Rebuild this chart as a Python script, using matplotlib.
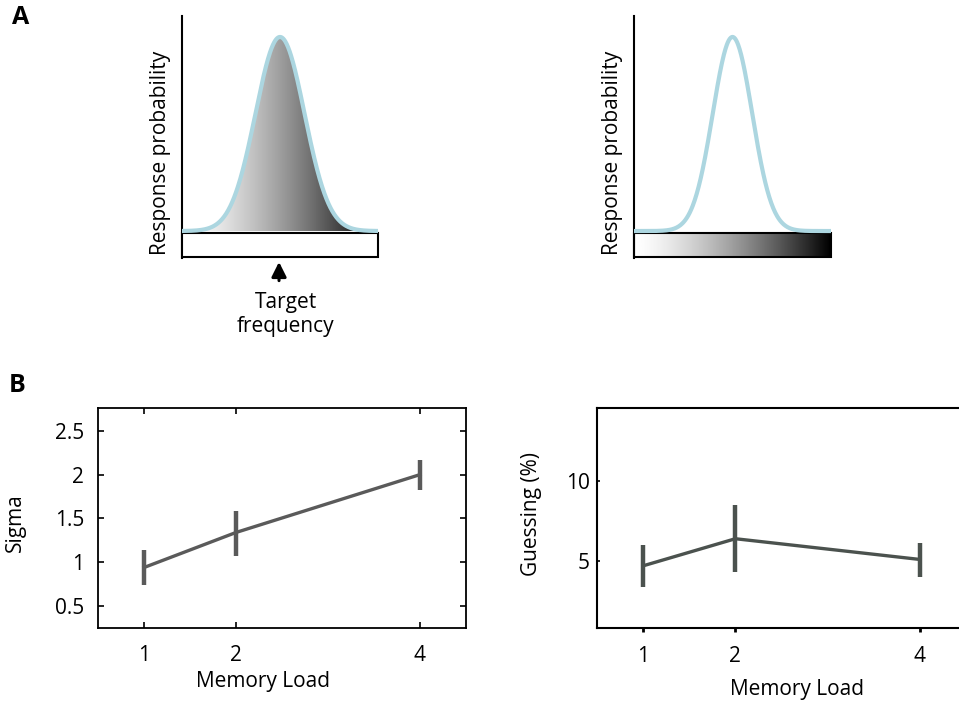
import numpy as np
import matplotlib
matplotlib.use("Agg")
import matplotlib.pyplot as plt
from matplotlib.patches import Rectangle

plt.rcParams['font.family'] = ['Open Sans', 'DejaVu Sans']

# panel B data
loads = [1, 2, 4]
sigma_mean = [0.94, 1.34, 2.0]
sigma_lo = [0.74, 1.07, 1.82]
sigma_hi = [1.14, 1.59, 2.17]
guess_mean = [4.7, 6.4, 5.1]
guess_lo = [3.4, 4.3, 4.0]
guess_hi = [6.0, 8.5, 6.15]

# panel A schematic curves (centre, width)
curve_centre = 0.5
curve_width_left = 0.125
curve_width_right = 0.1

W, H = 959, 705
fig = plt.figure(figsize=(W / 100, H / 100), dpi=100)

def box(x0, y0, x1, y1):
    return [x0 / W, 1 - y1 / H, (x1 - x0) / W, (y1 - y0) / H]

light_blue = "#acd6e0"
grad = np.linspace(0, 1, 400) ** 1.4
grad_img = np.vstack([grad, grad])

def schematic(ax, width, filled):
    xs = np.linspace(0, 1, 400)
    ys = np.exp(-0.5 * ((xs - curve_centre) / width) ** 2)
    ax.set_xlim(0, 1)
    ax.set_ylim(-0.139, 1.108)
    for s in ["top", "right", "bottom"]:
        ax.spines[s].set_visible(False)
    ax.spines["left"].set_linewidth(1.5)
    ax.set_xticks([])
    ax.set_yticks([])
    if filled:
        im = ax.imshow(grad_img, cmap="gray_r", extent=[0, 1, 0, 1.0],
                       aspect="auto", vmin=0, vmax=1, zorder=1)
        poly = ax.fill_between(xs, 0, ys, color="none")
        im.set_clip_path(poly.get_paths()[0], transform=ax.transData)
        ax.add_patch(Rectangle((0, -0.136), 1, 0.126, facecolor="white",
                               edgecolor="black", lw=1.5, zorder=3, clip_on=False))
    else:
        ax.imshow(grad_img, cmap="gray_r", extent=[0, 1, -0.136, -0.01],
                  aspect="auto", vmin=0, vmax=1, zorder=1)
        ax.add_patch(Rectangle((0, -0.136), 1, 0.126, facecolor="none",
                               edgecolor="black", lw=1.5, zorder=3, clip_on=False))
    ax.plot(xs, ys, color=light_blue, lw=3, zorder=4, solid_capstyle="round")
    ax.set_ylabel("Response probability", fontsize=15)
    ax.yaxis.set_label_coords(-11 / 196, 0.436)

axA1 = fig.add_axes(box(182, 16, 378, 258))
schematic(axA1, curve_width_left, True)
axA1.annotate("", xy=(0.495, -0.145), xytext=(0.495, -0.27),
              arrowprops=dict(arrowstyle="-|>", color="black", lw=2.2,
                              mutation_scale=22), annotation_clip=False)
axA1.text(0.53, -0.315, "Target\nfrequency", ha="center", va="top",
          fontsize=15, linespacing=1.15)

axA2 = fig.add_axes(box(634, 16, 831, 258))
schematic(axA2, curve_width_right, False)

fig.text(21 / W, 1 - 18 / H, "A", fontsize=18, fontweight="bold", ha="center", va="center")
fig.text(17 / W, 1 - 385 / H, "B", fontsize=18, fontweight="bold", ha="center", va="center")

# panel B left
axB1 = fig.add_axes(box(98, 408, 466, 628))
err = [np.subtract(sigma_mean, sigma_lo), np.subtract(sigma_hi, sigma_mean)]
axB1.errorbar(loads, sigma_mean, yerr=err, color="#5a5a5a", lw=2.4,
              elinewidth=3.2, capsize=0)
axB1.set_xlim(0.5, 4.5)
axB1.set_ylim(0.25, 2.76)
axB1.set_xticks(loads)
axB1.set_yticks([0.5, 1, 1.5, 2, 2.5])
axB1.set_yticklabels(["0.5", "1", "1.5", "2", "2.5"])
axB1.tick_params(direction="in", length=4, width=1.2, top=True, right=True,
                 labelsize=15, pad=10)
axB1.tick_params(axis="x", pad=12)
for s in axB1.spines.values():
    s.set_linewidth(1.3)
axB1.set_ylabel("Sigma", fontsize=15)
axB1.yaxis.set_label_coords(-72 / 368, 0.48)
axB1.set_xlabel("Memory Load", fontsize=15)
axB1.xaxis.set_label_coords((263 - 98) / 368, -43 / 220)

# panel B right
axB2 = fig.add_axes(box(597, 408, 966, 628))
err2 = [np.subtract(guess_mean, guess_lo), np.subtract(guess_hi, guess_mean)]
axB2.errorbar(loads, guess_mean, yerr=err2, color="#4b524e", lw=2.4,
              elinewidth=3.2, capsize=0)
axB2.set_xlim(0.5, 4.5)
axB2.set_ylim(0.8, 14.6)
axB2.set_xticks(loads)
axB2.set_yticks([5, 10])
axB2.tick_params(axis="x", direction="out", length=3, width=2, labelsize=15, pad=10)
axB2.tick_params(axis="y", direction="in", length=2, width=1.2, labelsize=15, pad=5)
for s in axB2.spines.values():
    s.set_linewidth(1.5)
axB2.set_ylabel("Guessing (%)", fontsize=15)
axB2.yaxis.set_label_coords(-55 / 369, 0.52)
axB2.set_xlabel("Memory Load", fontsize=15)
axB2.xaxis.set_label_coords((797 - 597) / 369, -51 / 220)

fig.savefig("out.png", dpi=100)
